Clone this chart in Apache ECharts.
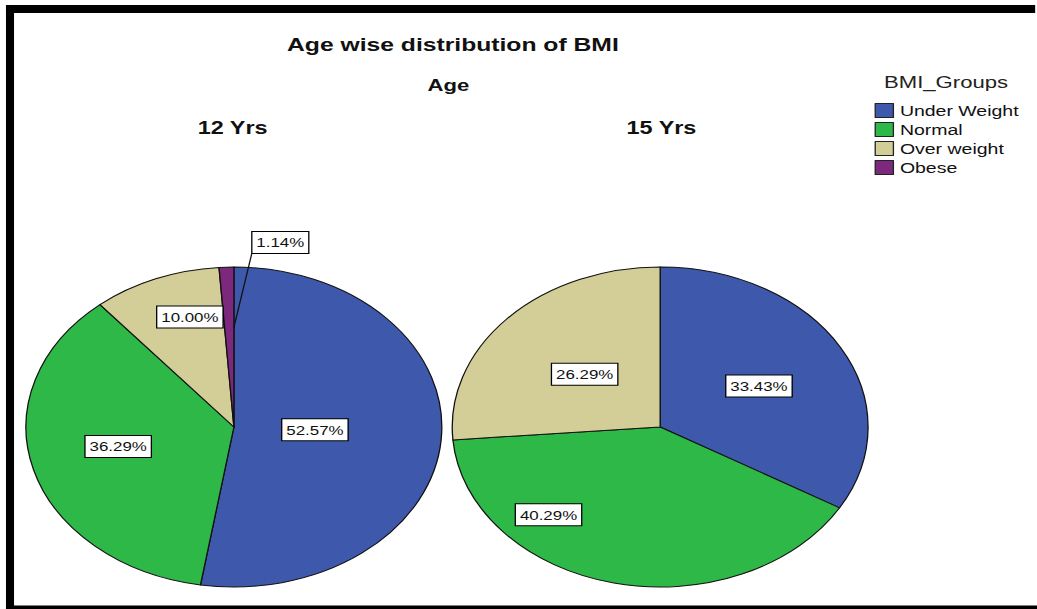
<!DOCTYPE html>
<html>
<head>
<meta charset="utf-8">
<title>Age wise distribution of BMI</title>
<script src="https://cdn.jsdelivr.net/npm/echarts@6/dist/echarts.min.js"></script>
<style>
  html, body { margin: 0; padding: 0; background: #fff; overflow: hidden; width: 1037px; height: 609px; }
  /* the chart is laid out on a narrower canvas and widened, giving the elliptical pies */
  #chart { width: 798px; height: 609px; transform: scaleX(1.2995); transform-origin: 0 0; }
</style>
</head>
<body>
<div id="chart"></div>
<script>
// ---- data ----
const categories = ['Under Weight', 'Normal', 'Over weight', 'Obese'];
const ageGroups = ['12 Yrs', '15 Yrs'];
const share12 = [52.57, 36.29, 10.00, 1.14];
const share15 = [33.43, 40.29, 26.29, 0];

// ---- styling ----
const colors = ['#3E58AC', '#2EB848', '#D3CE97', '#7C287D'];
const FONT = '"Liberation Sans", Arial, sans-serif';
const LABEL_SIZE = 13;
const LABEL_PAD = 3;
const R = 160;
const pieCenters = [[180, 427], [508, 427]];
// label placement per category: [fraction of radius, angle shift in degrees]
const labelSpots = [
  [[0.39, -2], [0.57, 3], [0.72, 5], [1.175, 13]],
  [[0.54, 1.5], [0.768, 31.5], [0.49, -0.5], [0.5, 0]]
];

const shares = [share12, share15];
const fmt = v => v.toFixed(2) + '%';

// build pie series; zero shares are left out
const seriesMeta = shares.map(vals => {
  const idx = [];
  vals.forEach((v, i) => { if (v > 0) idx.push(i); });
  const total = idx.reduce((s, i) => s + vals[i], 0);
  let cum = 0;
  const mids = idx.map(i => { const m = (cum + vals[i] / 2) / total * 360; cum += vals[i]; return m; });
  return { idx, mids };
});

function labelPoint(s, k, frac, shiftDeg) {
  const c = pieCenters[s];
  const a = (seriesMeta[s].mids[k] + shiftDeg) * Math.PI / 180;
  return [c[0] + frac * R * Math.sin(a), c[1] - frac * R * Math.cos(a)];
}

// leader lines for labels placed outside the pie
const measure = document.createElement('canvas').getContext('2d');
measure.font = LABEL_SIZE + 'px ' + FONT;
const leaders = [];
shares.forEach((vals, s) => {
  seriesMeta[s].idx.forEach((cat, k) => {
    const spot = labelSpots[s][cat];
    if (spot[0] <= 1) return;
    const pt = labelPoint(s, k, spot[0], spot[1]);
    const w = measure.measureText(fmt(vals[cat])).width + 2 * LABEL_PAD + 1;
    const h = 15 + 2 * LABEL_PAD + 1;
    const start = [pt[0] - w / 2, pt[1] + h / 2];
    const end = labelPoint(s, k, 0.62, 2);
    leaders.push({
      type: 'polyline', z: 100, silent: true,
      shape: { points: [start, end] },
      style: { stroke: '#111', lineWidth: 1, fill: null }
    });
  });
});

const series = shares.map((vals, s) => ({
  type: 'pie',
  name: ageGroups[s],
  center: pieCenters[s],
  radius: [0, R],
  startAngle: 90,
  clockwise: true,
  avoidLabelOverlap: false,
  animation: false,
  emphasis: { disabled: true },
  itemStyle: { borderColor: '#111', borderWidth: 1 },
  label: {
    show: true,
    position: 'inside',
    formatter: p => fmt(p.value),
    color: '#111',
    fontFamily: FONT,
    fontSize: LABEL_SIZE,
    lineHeight: 15,
    backgroundColor: '#fff',
    borderColor: '#000',
    borderWidth: 1,
    padding: [LABEL_PAD, LABEL_PAD, LABEL_PAD, LABEL_PAD]
  },
  labelLine: { show: false },
  data: seriesMeta[s].idx.map(i => ({ name: categories[i], value: vals[i], itemStyle: { color: colors[i] } })),
  labelLayout: function (p) {
    const k = p.dataIndex;
    const cat = seriesMeta[s].idx[k];
    const spot = labelSpots[s][cat];
    const pt = labelPoint(s, k, spot[0], spot[1]);
    return { x: pt[0], y: pt[1], align: 'center', verticalAlign: 'middle' };
  }
}));

const chart = echarts.init(document.getElementById('chart'), null, { renderer: 'svg' });

chart.setOption({
  backgroundColor: '#fff',
  color: colors,
  legend: {
    orient: 'vertical',
    left: 673,
    top: 103,
    padding: 0,
    itemWidth: 14,
    itemHeight: 14,
    itemGap: 4,
    icon: 'rect',
    data: categories,
    selectedMode: false,
    itemStyle: { borderColor: '#222', borderWidth: 1 },
    textStyle: { color: '#111', fontSize: 15, fontFamily: FONT }
  },
  series: series,
  graphic: [
    // frame
    { type: 'rect', shape: { x: 4.6, y: 5, width: 792, height: 8 }, style: { fill: '#000' }, silent: true },
    { type: 'rect', shape: { x: 4.6, y: 5, width: 6.2, height: 604 }, style: { fill: '#000' }, silent: true },
    { type: 'rect', shape: { x: 4.6, y: 605.5, width: 794, height: 4 }, style: { fill: '#000' }, silent: true },
    // headings
    { type: 'text', x: 348.5, y: 45, style: { text: 'Age wise distribution of BMI', fill: '#111', font: 'bold 19px ' + FONT, align: 'center', verticalAlign: 'middle' } },
    { type: 'text', x: 345, y: 85, style: { text: 'Age', fill: '#111', font: 'bold 17px ' + FONT, align: 'center', verticalAlign: 'middle' } },
    { type: 'text', x: 179, y: 128, style: { text: ageGroups[0], fill: '#111', font: 'bold 18px ' + FONT, align: 'center', verticalAlign: 'middle' } },
    { type: 'text', x: 509, y: 128, style: { text: ageGroups[1], fill: '#111', font: 'bold 18px ' + FONT, align: 'center', verticalAlign: 'middle' } },
    { type: 'text', x: 728, y: 82, style: { text: 'BMI_Groups', fill: '#222', font: '17px ' + FONT, align: 'center', verticalAlign: 'middle' } }
  ].concat(leaders)
});
</script>
</body>
</html>
